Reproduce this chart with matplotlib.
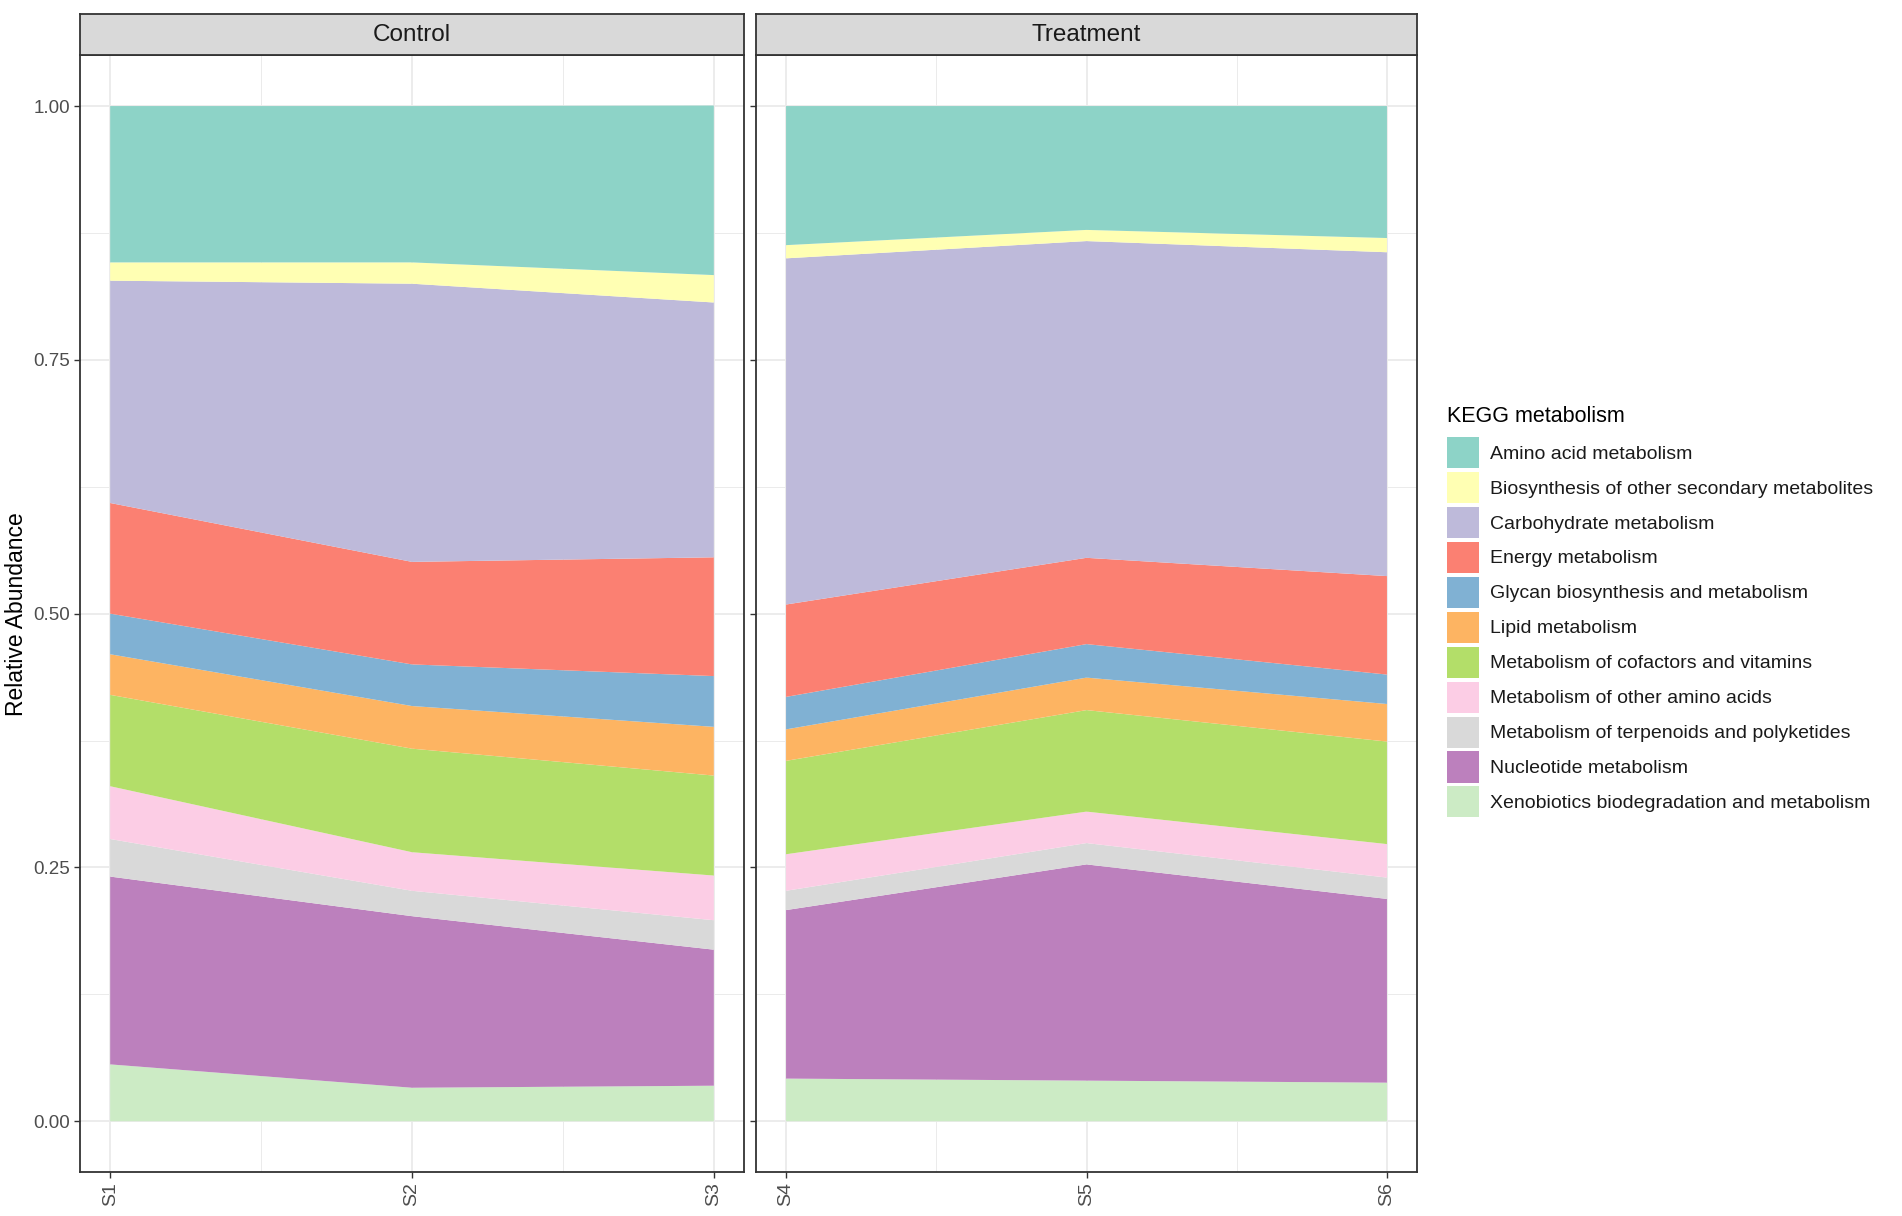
import matplotlib
matplotlib.use('Agg')
import matplotlib.pyplot as plt
from matplotlib.patches import Patch
from matplotlib.ticker import FixedLocator

plt.rcParams['font.family'] = ['Liberation Sans', 'DejaVu Sans']

# KEGG level-2 categories, legend order (top of stack first)
categories = [
    'Amino acid metabolism',
    'Biosynthesis of other secondary metabolites',
    'Carbohydrate metabolism',
    'Energy metabolism',
    'Glycan biosynthesis and metabolism',
    'Lipid metabolism',
    'Metabolism of cofactors and vitamins',
    'Metabolism of other amino acids',
    'Metabolism of terpenoids and polyketides',
    'Nucleotide metabolism',
    'Xenobiotics biodegradation and metabolism',
]
set3 = ['#8DD3C7', '#FFFFB3', '#BEBADA', '#FB8072', '#80B1D3', '#FDB462',
        '#B3DE69', '#FCCDE5', '#D9D9D9', '#BC80BD', '#CCEBC5']

samples = ['S1', 'S2', 'S3', 'S4', 'S5', 'S6']
groups = {'Control': ['S1', 'S2', 'S3'], 'Treatment': ['S4', 'S5', 'S6']}

# relative abundance per sample (S1..S6)
amino_acid = [0.154, 0.154, 0.167, 0.137, 0.122, 0.130]
biosynthesis_other = [0.018, 0.021, 0.027, 0.013, 0.011, 0.014]
carbohydrate = [0.219, 0.274, 0.251, 0.341, 0.312, 0.319]
energy = [0.109, 0.101, 0.117, 0.091, 0.085, 0.097]
glycan = [0.040, 0.041, 0.050, 0.032, 0.033, 0.029]
lipid = [0.040, 0.042, 0.048, 0.031, 0.032, 0.037]
cofactors = [0.090, 0.102, 0.0985, 0.092, 0.100, 0.101]
other_amino = [0.052, 0.038, 0.044, 0.036, 0.031, 0.033]
terpenoids = [0.037, 0.025, 0.029, 0.019, 0.021, 0.021]
nucleotide = [0.185, 0.169, 0.134, 0.166, 0.213, 0.181]
xenobiotics = [0.056, 0.033, 0.035, 0.042, 0.040, 0.038]

series = [amino_acid, biosynthesis_other, carbohydrate, energy, glycan, lipid,
          cofactors, other_amino, terpenoids, nucleotide, xenobiotics]

y_ticks = [0.0, 0.25, 0.5, 0.75, 1.0]
y_tick_labels = ['0.00', '0.25', '0.50', '0.75', '1.00']

W, H = 1902, 1216
fig = plt.figure(figsize=(W / 100, H / 100), dpi=100)
fig.patch.set_facecolor('white')

# pixel layout of the facets (left, width)
panel_box = {'Control': (80, 664), 'Treatment': (756, 661)}
panel_top, panel_bot = 55.3, 1172
strip_top = 13.8

tick_col = '#4D4D4D'
border_col = '#333333'

for i, (name, members) in enumerate(groups.items()):
    left, width = panel_box[name]
    x0, w = left / W, width / W
    ax = fig.add_axes([x0, 1 - panel_bot / H, w, (panel_bot - panel_top) / H])
    idx = [samples.index(s) for s in members]
    xs = list(range(len(members)))
    ys = [[s[j] for j in idx] for s in reversed(series)]
    ax.stackplot(xs, *ys, colors=list(reversed(set3)), linewidth=0, zorder=2)

    ax.set_xlim(-0.1, 2.1)
    ax.set_ylim(-0.05, 1.05)
    ax.set_xticks(xs)
    ax.set_xticklabels(members, rotation=90, fontsize=14, color=tick_col)
    ax.xaxis.set_minor_locator(FixedLocator([0.5, 1.5]))
    ax.set_yticks(y_ticks)
    ax.yaxis.set_minor_locator(FixedLocator([0.125, 0.375, 0.625, 0.875]))
    ax.grid(True, which='major', color='#EBEBEB', linewidth=1.3, zorder=0)
    ax.grid(True, which='minor', color='#EBEBEB', linewidth=0.7, zorder=0)
    ax.set_axisbelow(True)
    ax.tick_params(which='major', length=4.3, width=1, color=border_col, pad=3)
    ax.tick_params(which='minor', length=0)
    if i == 0:
        ax.set_yticklabels(y_tick_labels, fontsize=13.5, color=tick_col)
    else:
        ax.tick_params(axis='y', labelleft=False)
    for sp in ax.spines.values():
        sp.set_color(border_col)
        sp.set_linewidth(1.3)

    # facet strip
    sax = fig.add_axes([x0, 1 - panel_top / H, w, (panel_top - strip_top) / H])
    sax.set_facecolor('#D9D9D9')
    sax.set_xticks([])
    sax.set_yticks([])
    for sp in sax.spines.values():
        sp.set_color(border_col)
        sp.set_linewidth(1.3)
    sax.text(0.5, 0.48, name, ha='center', va='center', fontsize=17.5, color='#1A1A1A',
             transform=sax.transAxes)

fig.text(17 / W, 1 - 614 / H, 'Relative Abundance', rotation=90, ha='center', va='center',
         fontsize=16.5, color='black')

# legend
fig.text(1447 / W, 1 - 417 / H, 'KEGG metabolism', ha='left', va='center',
         fontsize=15.5, color='black')
handles = [Patch(facecolor=c, edgecolor='none') for c in set3]
leg = fig.legend(handles, categories, loc='upper left', bbox_to_anchor=(1447 / W, 1 - 437 / H),
                 frameon=False, fontsize=14,
                 handlelength=1.65, handleheight=2.08, labelspacing=0.2, handletextpad=0.55,
                 borderaxespad=0, borderpad=0)
for t in leg.get_texts():
    t.set_color('#1A1A1A')

fig.savefig('out.png', dpi=100)
